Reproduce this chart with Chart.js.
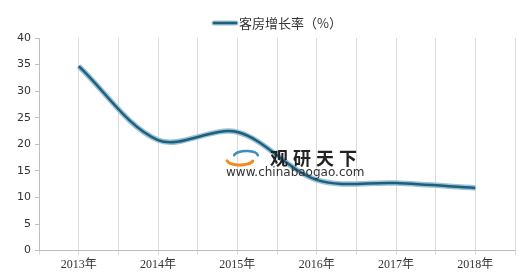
<!DOCTYPE html>
<html>
<head>
<meta charset="utf-8">
<script src="https://cdn.jsdelivr.net/npm/chart.js@4/dist/chart.umd.min.js"></script>
<style>
html,body{margin:0;padding:0;background:#fff;}
#wrap{width:520px;height:277px;position:relative;}
</style>
</head>
<body>
<div id="wrap"><canvas id="c"></canvas></div>
<script>
const categories = ['2013年','2014年','2015年','2016年','2017年','2018年'];
const growthRate = [34.7, 20.8, 22.3, 13.3, 12.7, 11.8];
const yTicks = [0,5,10,15,20,25,30,35,40];
const seriesName = '客房增长率（%）';

const points = growthRate.map((v,i)=>({x:i,y:v}));

const customLegend = {
  id:'customLegend',
  afterDraw(chart){
    const {ctx} = chart;
    ctx.save();
    ctx.lineCap = 'round';
    ctx.strokeStyle = '#9cc3d6';
    ctx.lineWidth = 5;
    ctx.beginPath(); ctx.moveTo(214,23); ctx.lineTo(236,23); ctx.stroke();
    ctx.strokeStyle = '#1f5f7e';
    ctx.lineWidth = 2.5;
    ctx.beginPath(); ctx.moveTo(214,23); ctx.lineTo(236,23); ctx.stroke();
    ctx.fillStyle = '#333';
    ctx.font = '13px "Noto Sans CJK SC"';
    ctx.textBaseline = 'middle';
    ctx.fillText(seriesName, 239, 23);
    ctx.restore();
  }
};

const watermark = {
  id:'watermark',
  afterDatasetsDraw(chart){
    const {ctx} = chart;
    ctx.save();
    ctx.lineCap = 'round';
    ctx.strokeStyle = '#f08a1c';
    ctx.lineWidth = 3;
    ctx.beginPath(); ctx.ellipse(240,160,13,5,0,0.2,Math.PI*0.95); ctx.stroke();
    ctx.strokeStyle = '#3a8fc0';
    ctx.lineWidth = 2.5;
    ctx.beginPath(); ctx.ellipse(246,156,12,5,0,Math.PI*1.05,Math.PI*1.95); ctx.stroke();
    ctx.fillStyle = '#222';
    ctx.font = 'bold 18px "Noto Sans CJK SC"';
    ctx.textBaseline = 'middle';
    const chars = ['观','研','天','下'];
    chars.forEach((c,i)=>ctx.fillText(c, 270 + i*23, 158));
    ctx.font = '12px "DejaVu Sans"';
    ctx.fillStyle = '#333';
    ctx.fillText('www.chinabaogao.com', 226, 173);
    ctx.restore();
  }
};

new Chart(document.getElementById('c'), {
  type:'line',
  data:{
    datasets:[
      {label:seriesName, data:points, borderColor:'#1f5f7e', backgroundColor:'#1f5f7e', borderWidth:2.5, tension:0.33, pointRadius:0, fill:false, order:0},
      {label:'_glow', data:points, borderColor:'#9cc3d6', borderWidth:5.5, tension:0.33, pointRadius:0, fill:false, order:1}
    ]
  },
  plugins:[watermark, customLegend],
  options:{
    responsive:true, maintainAspectRatio:false, animation:false,
    layout:{padding:{left:0,right:5,top:38,bottom:2}},
    plugins:{
      tooltip:{enabled:false},
      legend:{display:false}
    },
    scales:{
      x:{
        type:'linear', min:-0.5, max:5.5,
        grid:{color:'#d9d9d9', drawTicks:true, tickLength:4},
        border:{color:'#bfbfbf'},
        ticks:{
          stepSize:0.5, autoSkip:false, maxRotation:0,
          color:'#333', font:{family:'"Liberation Serif","Noto Sans CJK SC"', size:12},
          callback:(v)=>Number.isInteger(v)?categories[v]:''
        },
        afterBuildTicks:(s)=>{ s.ticks = []; for(let i=0;i<=12;i++){ s.ticks.push({value:-0.5+i*0.5}); } }
      },
      y:{
        min:0, max:40,
        grid:{display:true, drawOnChartArea:false, drawTicks:true, tickLength:4, color:'#bfbfbf'},
        border:{color:'#bfbfbf'},
        ticks:{stepSize:5, color:'#333', font:{family:'"DejaVu Sans"', size:11}, padding:4},
        afterBuildTicks:(s)=>{ s.ticks = yTicks.map(v=>({value:v})); },
        afterFit:(s)=>{ s.width = 39; }
      }
    }
  }
});
</script>
</body>
</html>
